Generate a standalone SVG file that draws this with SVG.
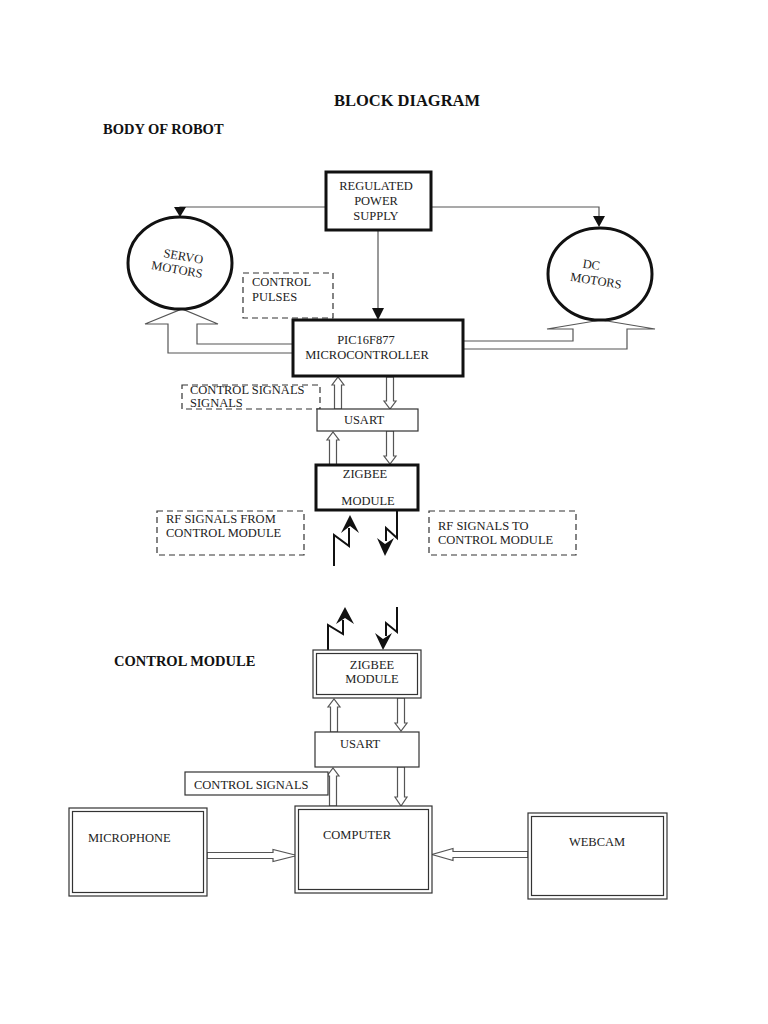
<svg xmlns="http://www.w3.org/2000/svg" width="768" height="1024" viewBox="0 0 768 1024">
<style>
text{font-family:"Liberation Serif","Times New Roman",serif;fill:#222;font-size:12.5px}
.h{font-weight:bold;font-size:15px;fill:#111}
.thick{fill:#fff;stroke:#111;stroke-width:3}
.thin{fill:#fff;stroke:#333;stroke-width:1.2}
.dash{fill:none;stroke:#333;stroke-width:1.2;stroke-dasharray:6 4}
.hollow{fill:#fff;stroke:#555;stroke-width:1.2}
.line{fill:none;stroke:#555;stroke-width:1.2}
.bolt{fill:none;stroke:#111;stroke-width:2}
.c{text-anchor:middle}
</style>
<rect width="768" height="1024" fill="#fff"/>
<text class="h c" x="407" y="106" style="font-size:16.5px">BLOCK DIAGRAM</text>
<text class="h" x="103" y="134" style="font-size:14.5px">BODY OF ROBOT</text>
<text class="h" x="114" y="666" style="font-size:14.5px">CONTROL MODULE</text>

<g id="connectors">
  <path class="line" d="M326,207 H180 V214"/>
  <polygon points="174,207 186,207 180,217" fill="#111"/>
  <path class="line" d="M432,207 H599 V220"/>
  <polygon points="593,216 605,216 599,227" fill="#111"/>
  <path class="line" d="M378,230 V310"/>
  <polygon points="372,308 384,308 378,320" fill="#111"/>
  <polygon class="hollow" points="293,344 197,344 197,324 218,324 182,309 145,324 168,324 168,353 293,353"/>
  <polygon class="hollow" points="463,341 573,341 573,329 547,329 601,320 655,329 627,329 627,349 463,349"/>
  <polygon class="hollow" points="334.5,409 334.5,385 332,385 338,377 344,385 341.5,385 341.5,409"/>
  <polygon class="hollow" points="386.5,377 386.5,401 384,401 390,409 396,401 393.5,401 393.5,377"/>
  <polygon class="hollow" points="329.5,465 329.5,440 327,440 333,432 339,440 336.5,440 336.5,465"/>
  <polygon class="hollow" points="386.5,431 386.5,456 384,456 390,464 396,456 393.5,456 393.5,431"/>
  <path class="bolt" d="M334,566 V535 L349,546 V528"/>
  <polygon points="350,515 341,533 350,526 359,533" fill="#111"/>
  <path class="bolt" d="M397,510 V538 L386,528 V541"/>
  <polygon points="385,556 377,538 385,544 394,538" fill="#111"/>
  <path class="bolt" d="M328,650 V625 L343,634 V620"/>
  <polygon points="345,607 336,624 345,618 354,624" fill="#111"/>
  <path class="bolt" d="M397,607 V632 L386,623 V636"/>
  <polygon points="383,650 375,633 383,639 392,633" fill="#111"/>
  <polygon class="hollow" points="330.5,732 330.5,707 328,707 334,699 340,707 337.5,707 337.5,732"/>
  <polygon class="hollow" points="397.5,698 397.5,723 395,723 401,731 407,723 404.5,723 404.5,698"/>
  <polygon class="hollow" points="329.5,806 329.5,776 327,776 333,768 339,776 336.5,776 336.5,806"/>
  <polygon class="hollow" points="397.5,767 397.5,797 395,797 401,806 407,797 404.5,797 404.5,767"/>
  <polygon class="hollow" points="207,852.5 273,852.5 273,849.5 297,855.5 273,861.5 273,858.5 207,858.5"/>
  <polygon class="hollow" points="528,851.5 453,851.5 453,848.5 432,854.5 453,860.5 453,857.5 528,857.5"/>
</g>

<g id="power">
  <rect class="thick" x="326" y="172" width="105" height="58"/>
  <text class="c" x="376" y="190">REGULATED</text>
  <text class="c" x="376" y="205">POWER</text>
  <text class="c" x="376" y="220">SUPPLY</text>
</g>
<g id="servo">
  <ellipse class="thick" cx="180" cy="263" rx="52" ry="46"/>
  <g transform="rotate(10 180 264)">
    <text class="c" x="182" y="260">SERVO</text>
    <text class="c" x="178" y="274">MOTORS</text>
  </g>
</g>
<g id="dc">
  <ellipse class="thick" cx="600" cy="274" rx="52" ry="46"/>
  <g transform="rotate(9 598 274)">
    <text class="c" x="590" y="270">DC</text>
    <text class="c" x="597" y="285">MOTORS</text>
  </g>
</g>
<g id="pulses">
  <rect class="dash" x="243" y="273" width="90" height="45"/>
  <text x="252" y="286">CONTROL</text>
  <text x="252" y="301">PULSES</text>
</g>
<g id="micro">
  <rect class="thick" x="293" y="320" width="170" height="56"/>
  <text class="c" x="366" y="344">PIC16F877</text>
  <text class="c" x="367" y="359">MICROCONTROLLER</text>
</g>
<g id="ctrlsig1">
  <rect class="dash" x="182" y="385" width="138" height="24"/>
  <text x="190" y="394">CONTROL  SIGNALS</text>
  <text x="190" y="407">SIGNALS</text>
</g>
<g id="usart1">
  <rect class="thin" x="317" y="409" width="101" height="22"/>
  <text class="c" x="364" y="424">USART</text>
</g>
<g id="zigbee1">
  <rect class="thick" x="316" y="465" width="102" height="45"/>
  <text class="c" x="365" y="478">ZIGBEE</text>
  <text class="c" x="368" y="505">MODULE</text>
</g>
<g id="rffrom">
  <rect class="dash" x="157" y="511" width="147" height="44"/>
  <text x="166" y="523">RF SIGNALS  FROM</text>
  <text x="166" y="537">CONTROL  MODULE</text>
</g>
<g id="rfto">
  <rect class="dash" x="429" y="511" width="147" height="44"/>
  <text x="438" y="530">RF SIGNALS  TO</text>
  <text x="438" y="544">CONTROL  MODULE</text>
</g>
<g id="zigbee2">
  <rect class="thin" x="313" y="650" width="108" height="48"/>
  <rect class="thin" x="316.5" y="653.5" width="101" height="41"/>
  <text class="c" x="372" y="669">ZIGBEE</text>
  <text class="c" x="372" y="683">MODULE</text>
</g>
<g id="usart2">
  <rect class="thin" x="315" y="732" width="104" height="35"/>
  <text class="c" x="360" y="748">USART</text>
</g>
<g id="ctrlsig2">
  <rect class="thin" x="185" y="772" width="143" height="23"/>
  <text x="194" y="789">CONTROL SIGNALS</text>
</g>
<g id="computer">
  <rect class="thin" x="295" y="806" width="137" height="87"/>
  <rect class="thin" x="298.5" y="809.5" width="130" height="80"/>
  <text class="c" x="357" y="839">COMPUTER</text>
</g>
<g id="microphone">
  <rect class="thin" x="69" y="808" width="138" height="88"/>
  <rect class="thin" x="72.5" y="811.5" width="131" height="81"/>
  <text x="88" y="842">MICROPHONE</text>
</g>
<g id="webcam">
  <rect class="thin" x="528" y="813" width="139" height="86"/>
  <rect class="thin" x="531.5" y="816.5" width="132" height="79"/>
  <text class="c" x="597" y="846">WEBCAM</text>
</g>
</svg>
